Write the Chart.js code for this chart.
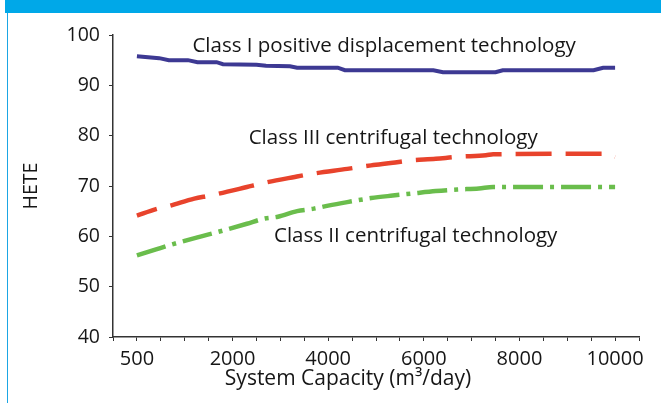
<!DOCTYPE html>
<html><head><meta charset="utf-8">
<script src="https://cdn.jsdelivr.net/npm/chart.js@4/dist/chart.umd.min.js"></script>
<style>
html,body{margin:0;padding:0;background:#fff;}
#wrap{position:relative;width:661px;height:403px;overflow:hidden;background:#fff;}
#bar{position:absolute;left:5px;top:0;width:656px;height:13px;background:#00a8e8;}
#rule{position:absolute;left:7px;top:13px;width:1px;height:390px;background:#1ba6e4;}
canvas{position:absolute;left:0;top:0;}
</style></head><body>
<div id="wrap"><div id="bar"></div><div id="rule"></div><canvas id="c" width="661" height="403"></canvas></div>
<script>
// ---- data ----
const tickCapacities = [500, 2000, 4000, 6000, 8000, 10000];
const tickLabels = ['500', '2000', '4000', '6000', '8000', '10000'];

const classICap = [500, 850, 1000, 1300, 1450, 1750, 1850, 2500, 2700, 3200, 3350, 4200, 4350, 6200, 6400, 7500, 7650, 9550, 9750, 10000];
const classIVal = [95.8, 95.4, 95.0, 95.0, 94.6, 94.6, 94.2, 94.1, 93.9, 93.8, 93.5, 93.5, 93.0, 93.0, 92.6, 92.6, 93.0, 93.0, 93.5, 93.5];

const classIIICap = [500, 800, 1000, 1400, 1650, 2300, 2600, 3300, 3650, 4400, 4900, 5350, 5650, 6250, 6700, 7300, 7450, 9850, 10000];
const classIIIVal = [64.1, 65.4, 66.0, 67.5, 68.1, 69.8, 70.5, 71.8, 72.4, 73.4, 74.1, 74.6, 75.0, 75.4, 75.8, 76.1, 76.3, 76.4, 75.8];

const classIICap = [500, 800, 1000, 1450, 1750, 2300, 2650, 2950, 3350, 3700, 4000, 4400, 4900, 5350, 5750, 6250, 6700, 7150, 7450, 10000];
const classIIVal = [56.2, 57.4, 58.2, 59.8, 60.8, 62.5, 63.5, 63.9, 65.0, 65.5, 66.1, 66.8, 67.6, 68.1, 68.5, 69.0, 69.3, 69.5, 69.8, 69.8];

const seriesNames = ['Class I positive displacement technology', 'Class III centrifugal technology', 'Class II centrifugal technology'];
const xTitle = 'System Capacity (m\u00B3/day)';
const yTitle = 'HETE';

// ---- layout (positions of in-plot labels, in data units) ----
const labelAnchors = [
  {cap: 5170, value: 97.8},
  {cap: 5360, value: 79.5},
  {cap: 5830, value: 60.1}
];

const TICKS_PER_SEG = 4;
function capPos(c) {
  for (let i = 0; i < tickCapacities.length - 1; i++) {
    const a = tickCapacities[i], b = tickCapacities[i + 1];
    if (c <= b || i === tickCapacities.length - 2) {
      return TICKS_PER_SEG * i + TICKS_PER_SEG * (c - a) / (b - a);
    }
  }
}
const toPts = (caps, vals) => caps.map((c, i) => ({x: capPos(c), y: vals[i]}));

const FONT = '"Open Sans", Lato, sans-serif';
const TXT = '#161616';

const textPlugin = {
  id: 'texts',
  afterDraw(chart) {
    const {ctx, scales: {x, y}, chartArea} = chart;
    ctx.save();
    ctx.fillStyle = TXT;
    ctx.font = '20.5px ' + FONT;
    ctx.textAlign = 'center';
    ctx.textBaseline = 'middle';
    labelAnchors.forEach((a, i) => {
      ctx.fillText(seriesNames[i], x.getPixelForValue(capPos(a.cap)), y.getPixelForValue(a.value));
    });
    ctx.font = '21px ' + FONT;
    ctx.fillText(xTitle, chartArea.left + 235, chartArea.bottom + 42);
    ctx.font = '19.5px ' + FONT;
    ctx.translate(31, (chartArea.top + chartArea.bottom) / 2);
    ctx.rotate(-Math.PI / 2);
    ctx.fillText(yTitle, 0, 0);
    ctx.restore();
  }
};

new Chart(document.getElementById('c'), {
  type: 'line',
  data: {
    datasets: [
      {label: seriesNames[0], data: toPts(classICap, classIVal), borderColor: '#3d3993', borderWidth: 4, pointRadius: 0, tension: 0, borderCapStyle: 'butt'},
      {label: seriesNames[1], data: toPts(classIIICap, classIIIVal), borderColor: '#e8432c', borderWidth: 4.5, pointRadius: 0, cubicInterpolationMode: 'monotone', borderDash: [36, 14], borderDashOffset: 15, borderCapStyle: 'butt'},
      {label: seriesNames[2], data: toPts(classIICap, classIIVal), borderColor: '#6abd4c', borderWidth: 4.5, pointRadius: 0, cubicInterpolationMode: 'monotone', borderDash: [30, 7, 4, 7], borderCapStyle: 'butt'}
    ]
  },
  options: {
    responsive: false,
    animation: false,
    events: [],
    layout: {padding: {top: 35, right: 22, left: 0, bottom: 0}},
    plugins: {legend: {display: false}, tooltip: {enabled: false}},
    scales: {
      x: {
        type: 'linear', min: -1, max: 21,
        afterFit: s => { s.height = 66; },
        ticks: {
          stepSize: 1, autoSkip: false, maxRotation: 0, minRotation: 0, padding: 6,
          color: TXT, font: {family: FONT, size: 20},
          callback: v => (v >= 0 && v % TICKS_PER_SEG === 0 && v / TICKS_PER_SEG < tickLabels.length) ? tickLabels[v / TICKS_PER_SEG] : ''
        },
        grid: {drawOnChartArea: false, drawTicks: true, tickLength: 4, color: '#333', tickWidth: 1},
        border: {display: true, color: '#333', width: 1.5}
      },
      y: {
        min: 40, max: 100,
        afterFit: s => { s.width = 113; },
        ticks: {
          stepSize: 5, padding: 9, color: TXT, font: {family: FONT, size: 19.5},
          callback: v => (v % 10 === 0 ? String(v) : '')
        },
        grid: {drawOnChartArea: false, drawTicks: true, tickLength: 4, color: '#333', tickWidth: 1},
        border: {display: true, color: '#333', width: 1.5}
      }
    }
  },
  plugins: [textPlugin]
});
</script>
</body></html>
